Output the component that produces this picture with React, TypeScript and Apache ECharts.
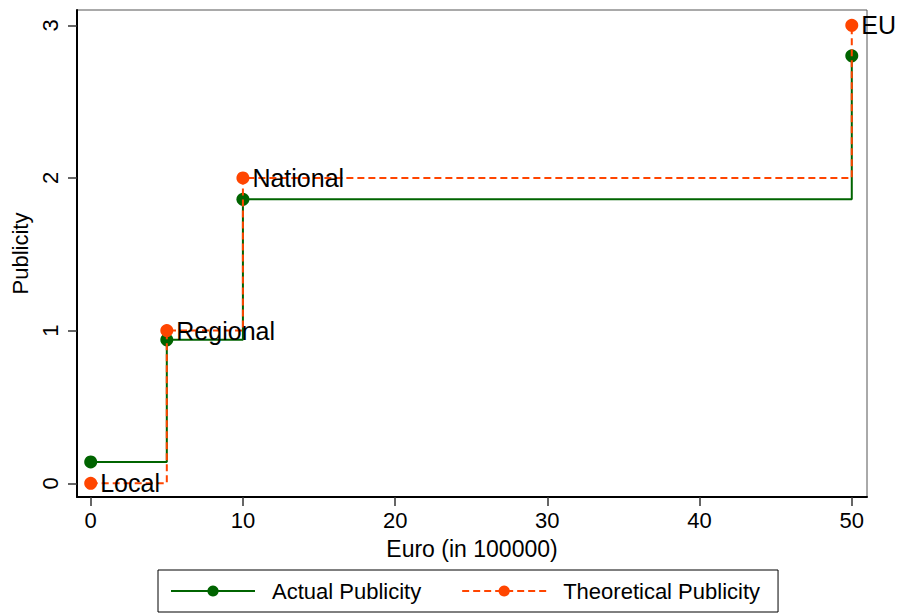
import React, { useEffect, useRef } from "react";
import * as echarts from "echarts";

const euroValues = [0, 5, 10, 50];
const actualValues = [0.14, 0.94, 1.86, 2.8];
const theoreticalValues = [0, 1, 2, 3];
const levelLabels = ["Local", "Regional", "National", "EU"];
const xTicks = [0, 10, 20, 30, 40, 50];
const yTicks = [0, 1, 2, 3];

const FONT = "'Liberation Sans', Arial, Helvetica, sans-serif";
const GREEN = "#006400";
const ORANGE = "#FF4500";

export default function App() {
  const ref = useRef<HTMLDivElement>(null);
  useEffect(() => {
    if (!ref.current) return;
    const chart = echarts.init(ref.current, undefined, { renderer: "svg" });
    const actualData = euroValues.map((x, i) => [x, actualValues[i]]);
    const theoData = euroValues.map((x, i) => [x, theoreticalValues[i]]);
    chart.setOption({
      animation: false,
      backgroundColor: "#ffffff",
      textStyle: { fontFamily: FONT },
      grid: {
        left: 77,
        right: 33,
        top: 10,
        bottom: 118,
        show: true,
        borderColor: "#555",
        borderWidth: 1,
        backgroundColor: "transparent",
      },
      xAxis: {
        type: "value",
        min: -0.9,
        max: 51,
        name: "Euro (in 100000)",
        nameLocation: "middle",
        nameGap: 40,
        nameTextStyle: { fontSize: 23, color: "#000", fontFamily: FONT },
        axisLine: { show: true, onZero: false, lineStyle: { color: "#000", width: 2 } },
        axisTick: {
          show: true,
          length: 9,
          customValues: xTicks,
          lineStyle: { color: "#333", width: 1.5 },
        },
        axisLabel: {
          customValues: xTicks,
          fontSize: 22,
          color: "#000",
          margin: 12,
          fontFamily: FONT,
        },
        splitLine: { show: false },
      },
      yAxis: {
        type: "value",
        min: -0.09,
        max: 3.1,
        name: "Publicity",
        nameLocation: "middle",
        nameGap: 42,
        nameRotate: 90,
        nameTextStyle: { fontSize: 22, color: "#000", fontFamily: FONT },
        axisLine: { show: true, onZero: false, lineStyle: { color: "#000", width: 2 } },
        axisTick: {
          show: true,
          length: 9,
          customValues: yTicks,
          lineStyle: { color: "#333", width: 1.5 },
        },
        axisLabel: {
          customValues: yTicks,
          fontSize: 22,
          color: "#000",
          rotate: 90,
          margin: 16,
          fontFamily: FONT,
        },
        splitLine: { show: false },
      },
      legend: {
        left: 158,
        top: 570,
        orient: "horizontal",
        padding: [10, 18, 10, 12],
        borderColor: "#000",
        borderWidth: 1,
        itemWidth: 84,
        itemHeight: 14,
        itemGap: 40,
        textStyle: { fontSize: 22, color: "#000", fontFamily: FONT, padding: [0, 0, 0, 12] },
        data: ["Actual Publicity", "Theoretical Publicity"],
      },
      series: [
        {
          name: "Actual Publicity",
          type: "line",
          step: "end",
          data: actualData,
          symbol: "circle",
          symbolSize: 13,
          clip: false,
          itemStyle: { color: GREEN },
          lineStyle: { color: GREEN, width: 2 },
          z: 2,
        },
        {
          name: "Theoretical Publicity",
          type: "line",
          step: "end",
          data: theoData,
          symbol: "circle",
          symbolSize: 13,
          clip: false,
          itemStyle: { color: ORANGE },
          lineStyle: { color: ORANGE, width: 2, type: [7, 4] },
          label: {
            show: true,
            position: "right",
            distance: 3,
            fontSize: 25,
            color: "#000",
            fontFamily: FONT,
            formatter: (p: any) => levelLabels[p.dataIndex],
          },
          z: 3,
        },
      ],
    });
    return () => chart.dispose();
  }, []);
  return (
    <div
      ref={ref}
      style={{ position: "fixed", left: 0, top: 0, width: 900, height: 615, background: "#fff" }}
    />
  );
}
